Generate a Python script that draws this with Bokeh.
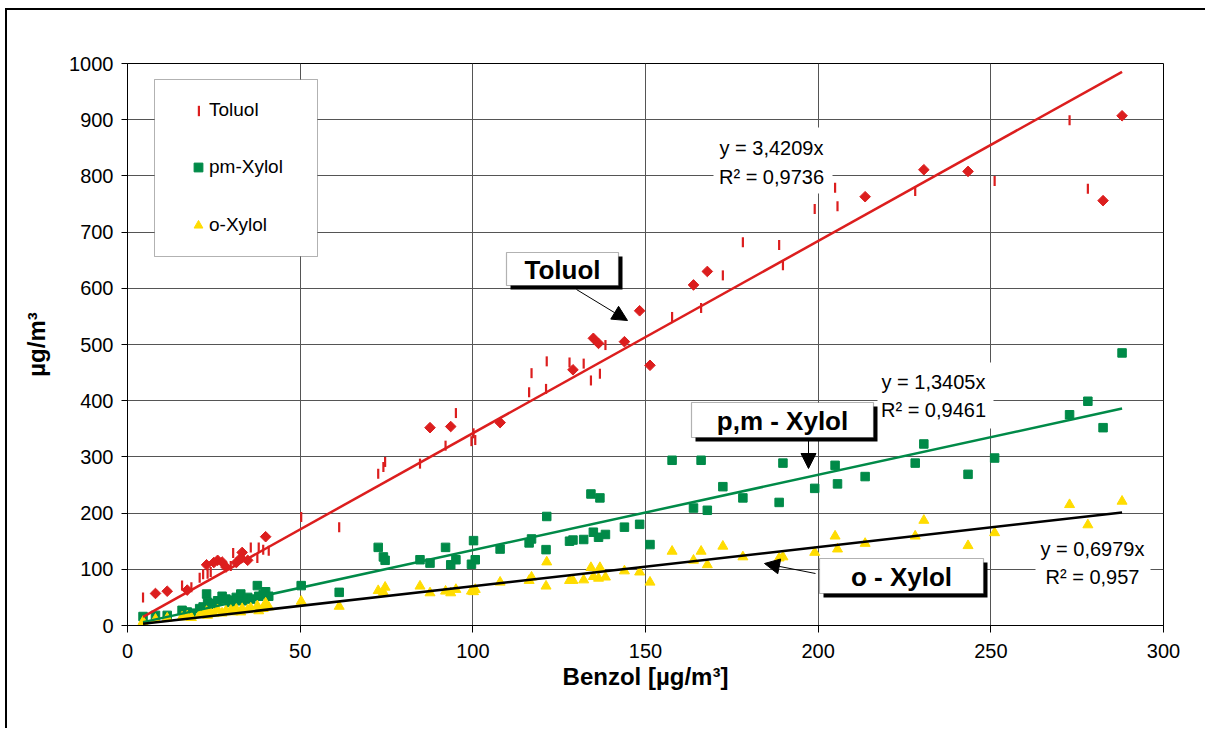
import math
from bokeh.plotting import figure
from bokeh.models import (Range1d, FixedTicker, BoxAnnotation, Label, Arrow,
                          NormalHead, Legend, LegendItem)
from bokeh.embed import file_html
from bokeh.resources import INLINE

# ---------------- data ----------------
# Benzol concentrations (x) shared by the xylene series
benzol = [4.5, 8.1, 11.5, 15.8, 17.3, 18.5, 20.9, 21.9, 22.9, 23.2, 24.1, 25.0, 26.1,
          27.4, 28.5, 29.9, 30.6, 31.5, 32.8, 33.2, 34.8, 35.7, 37.6, 38.0, 39.3, 40.0,
          40.9, 50.3, 61.3, 72.6, 74.1, 74.6, 84.7, 87.6, 92.1, 93.6, 95.1, 99.6, 100.2,
          100.7, 107.9, 116.3, 117.0, 121.2, 121.4, 128.0, 129.0, 132.1, 134.2, 134.9,
          136.4, 136.8, 138.4, 143.9, 148.3, 151.3, 157.7, 163.9, 166.1, 167.9, 172.4,
          178.2, 188.7, 189.8, 199.0, 204.9, 205.6, 213.6, 228.1, 230.6, 243.4, 251.1,
          272.8, 278.1, 282.5, 288.0]
pm_xylol = [16, 18, 18, 27, 24, 22, 30, 33, 56, 41, 38, 39, 44, 52, 47, 41, 45, 50, 56,
            44, 50, 47, 71, 52, 55, 60, 52, 71, 59, 139, 122, 116, 117, 111, 139, 108, 117,
            109, 151, 117, 136, 147, 154, 135, 194, 150, 152, 153, 234, 166, 157, 227, 162,
            175, 180, 144, 294, 209, 294, 205, 247, 227, 219, 289, 244, 285, 252, 265, 289,
            323, 269, 298, 375, 399, 352, 485]
o_xylol = [7, 11, 13, 15, 17, 14, 19, 20, 25, 18, 22, 21, 28, 22, 26, 27, 24, 29, 24, 30,
           28, 31, 35, 26, 30, 40, 33, 43, 34, 62, 59, 68, 70, 58, 61, 58, 64, 61, 60, 64,
           77, 80, 86, 70, 113, 80, 80, 81, 103, 87, 84, 103, 86, 97, 95, 77, 132, 116,
           132, 108, 141, 122, 120, 122, 130, 159, 136, 146, 159, 187, 142, 165, 215, 179,
           140, 221]

# Toluol, drawn with two marker forms in the original
toluol_dash_benzol = [4.5, 15.8, 18.5, 20.9, 21.9, 23.2, 24.1, 29.9, 30.6, 35.7, 37.6,
                      38.0, 39.3, 40.9, 50.3, 61.3, 72.6, 74.1, 74.6, 84.7, 92.1, 95.1,
                      99.6, 100.2, 100.7, 116.3, 117.0, 121.2, 121.4, 128.0, 132.1, 134.2,
                      136.8, 138.4, 157.7, 166.1, 172.4, 178.2, 188.7, 189.8, 199.0, 204.9,
                      205.6, 228.1, 251.1, 272.8, 278.1]
toluol_dash = [50, 71, 68, 85, 91, 92, 95, 106, 129, 139, 120, 139, 135, 133, 193, 175,
               270, 282, 291, 288, 320, 378, 328, 342, 330, 415, 449, 421, 470, 468, 466,
               436, 448, 499, 549, 565, 623, 682, 677, 641, 741, 779, 746, 773, 791, 899,
               777]
toluol_diamond_benzol = [8.1, 11.5, 17.3, 22.9, 25.0, 26.1, 27.4, 28.5, 31.5, 32.8, 33.2,
                         34.8, 40.0, 87.6, 93.6, 107.9, 129.0, 134.9, 136.4, 143.9, 148.3,
                         151.3, 163.9, 167.9, 213.6, 230.6, 243.4, 282.5, 288.0]
toluol_diamond = [57, 61, 63, 108, 112, 116, 113, 104, 112, 120, 130, 116, 158, 352, 354,
                  361, 455, 511, 502, 505, 560, 463, 606, 630, 763, 811, 808, 756, 907]

series_names = ["Toluol", "pm-Xylol", "o-Xylol"]
slopes = [3.4209, 1.3405, 0.6979]
r_squared = ["0,9736", "0,9461", "0,957"]
slope_texts = ["3,4209", "1,3405", "0,6979"]
callout_texts = ["Toluol", "p,m - Xylol", "o - Xylol"]
x_ticks = [0, 50, 100, 150, 200, 250, 300]
y_ticks = [0, 100, 200, 300, 400, 500, 600, 700, 800, 900, 1000]

RED = "#dc1e1e"
GREEN = "#008a48"
YELLOW = "#ffdc00"
FONT = "Liberation Sans"

# ---------------- figure ----------------
p = figure(width=1200, height=720, x_range=Range1d(0, 300), y_range=Range1d(0, 1000),
           output_backend="svg", toolbar_location=None,
           min_border_left=120, min_border_right=44, min_border_top=53,
           min_border_bottom=105)
p.styles = {"border-left": "2px solid black", "border-top": "2px solid black",
            "margin-left": "5px", "margin-top": "8px"}
p.background_fill_color = "white"
p.border_fill_color = "white"
p.outline_line_color = "black"
p.outline_line_width = 1

p.xaxis.ticker = FixedTicker(ticks=x_ticks)
p.yaxis.ticker = FixedTicker(ticks=y_ticks)
p.xgrid.ticker = FixedTicker(ticks=x_ticks)
p.ygrid.ticker = FixedTicker(ticks=y_ticks)
for g in (p.xgrid, p.ygrid):
    g.grid_line_color = "#555555"
    g.grid_line_width = 1

for ax in (p.xaxis, p.yaxis):
    ax.axis_line_color = "black"
    ax.axis_line_width = 1
    ax.major_tick_line_color = "black"
    ax.major_tick_in = 0
    ax.minor_tick_line_color = None
    ax.major_label_text_font = FONT
    ax.major_label_text_font_size = "20px"
    ax.major_label_text_color = "black"
    ax.axis_label_text_font = FONT
    ax.axis_label_text_font_size = "24px"
    ax.axis_label_text_font_style = "bold"
    ax.axis_label_text_color = "black"
p.xaxis.major_tick_out = 7
p.yaxis.major_tick_out = 6
p.xaxis.major_label_standoff = 11
p.yaxis.major_label_standoff = 8
p.xaxis.axis_label = "Benzol [µg/m³]"
p.yaxis.axis_label = "µg/m³"
p.xaxis.axis_label_standoff = 2
p.yaxis.axis_label_standoff = 16

# ---------------- data marks ----------------
r_tol = p.rect(toluol_dash_benzol, toluol_dash, width=2.2, height=10,
               width_units="screen", height_units="screen",
               fill_color=RED, line_color=None)
p.scatter(toluol_diamond_benzol, toluol_diamond, marker="square", angle=math.pi / 4,
          size=7.5, fill_color=RED, line_color=RED)
r_pm = p.scatter(benzol, pm_xylol, marker="square", size=8.5, fill_color=GREEN,
                 line_color=GREEN)
r_o = p.scatter(benzol, o_xylol, marker="triangle", size=10, fill_color=YELLOW,
                line_color=YELLOW)

xmin, xmax = min(benzol), max(benzol)
for s, c in zip(slopes, [RED, GREEN, "black"]):
    p.line([xmin, xmax], [s * xmin, s * xmax], line_color=c, line_width=2.5)

# ---------------- annotation helpers (page pixels -> data) ----------------
def dx(px):
    return (px - 127) / (1163 - 127) * 300


def dy(py):
    return (625 - py) / (625 - 63) * 1000


# regression equation labels with white backing
eq_boxes = [(713, 832, 127, 193), (877, 993, 362, 428), (1035, 1150, 530, 592)]
eq_centers = [(771, 147, 176), (933, 381, 409), (1092, 548, 576)]
for (l, r, t, b), (cx, y1, y2), st, r2 in zip(eq_boxes, eq_centers, slope_texts, r_squared):
    p.add_layout(BoxAnnotation(left=dx(l), right=dx(r), top=dy(t), bottom=dy(b),
                               fill_color="white", fill_alpha=1, line_color=None))
    p.add_layout(Label(x=dx(cx), y=dy(y1), text=f"y = {st}x", text_align="center",
                       text_baseline="middle", text_font=FONT, text_font_size="20px",
                       text_color="black"))
    p.add_layout(Label(x=dx(cx), y=dy(y2), text=f"R² = {r2}", text_align="center",
                       text_baseline="middle", text_font=FONT, text_font_size="20px",
                       text_color="black"))

# callout boxes with shadows and arrows
callout_boxes = [(506, 618, 252, 285), (691, 873, 402, 437), (819, 983, 558, 593)]
arrows = [((576, 289), (627, 320)), ((808, 440), (808, 468)), ((815, 573), (764, 563))]
for (l, r, t, b), txt, ((x0, y0), (x1, y1)) in zip(callout_boxes, callout_texts, arrows):
    p.add_layout(Arrow(end=NormalHead(size=15, fill_color="black", line_color="black"),
                       x_start=dx(x0), y_start=dy(y0), x_end=dx(x1), y_end=dy(y1),
                       line_color="black", line_width=1))
    p.add_layout(BoxAnnotation(left=dx(l + 4), right=dx(r + 4), top=dy(t + 4),
                               bottom=dy(b + 4), fill_color="black", fill_alpha=1,
                               line_color=None))
    p.add_layout(BoxAnnotation(left=dx(l), right=dx(r), top=dy(t), bottom=dy(b),
                               fill_color="white", fill_alpha=1, line_color="black",
                               line_width=1.2))
    p.add_layout(Label(x=dx((l + r) / 2), y=dy((t + b) / 2 + 1), text=txt,
                       text_align="center", text_baseline="middle", text_font=FONT,
                       text_font_size="26px", text_font_style="bold", text_color="black"))

# legend frame + two legends (thin vertical tick for Toluol, markers for xylenes)
p.add_layout(BoxAnnotation(left=dx(154), right=dx(317), top=dy(79), bottom=dy(256),
                           fill_color="white", fill_alpha=1, line_color="black",
                           line_width=1))


def style_legend(lg):
    lg.border_line_color = None
    lg.background_fill_alpha = 0
    lg.label_text_font = FONT
    lg.label_text_font_size = "19px"
    lg.label_text_color = "black"
    lg.padding = 0
    lg.margin = 0


legend_a = Legend(items=[LegendItem(label=series_names[0], renderers=[r_tol])],
                  location=(70, 504))
style_legend(legend_a)
legend_a.glyph_width = 3
legend_a.glyph_height = 13
legend_a.label_standoff = 9

legend_b = Legend(items=[LegendItem(label=series_names[1], renderers=[r_pm]),
                         LegendItem(label=series_names[2], renderers=[r_o])],
                  location=(60, 389))
style_legend(legend_b)
legend_b.glyph_width = 22
legend_b.glyph_height = 22
legend_b.label_standoff = 0
legend_b.spacing = 36

p.add_layout(legend_a)
p.add_layout(legend_b)

open("out.html", "w").write(file_html(p, INLINE))
